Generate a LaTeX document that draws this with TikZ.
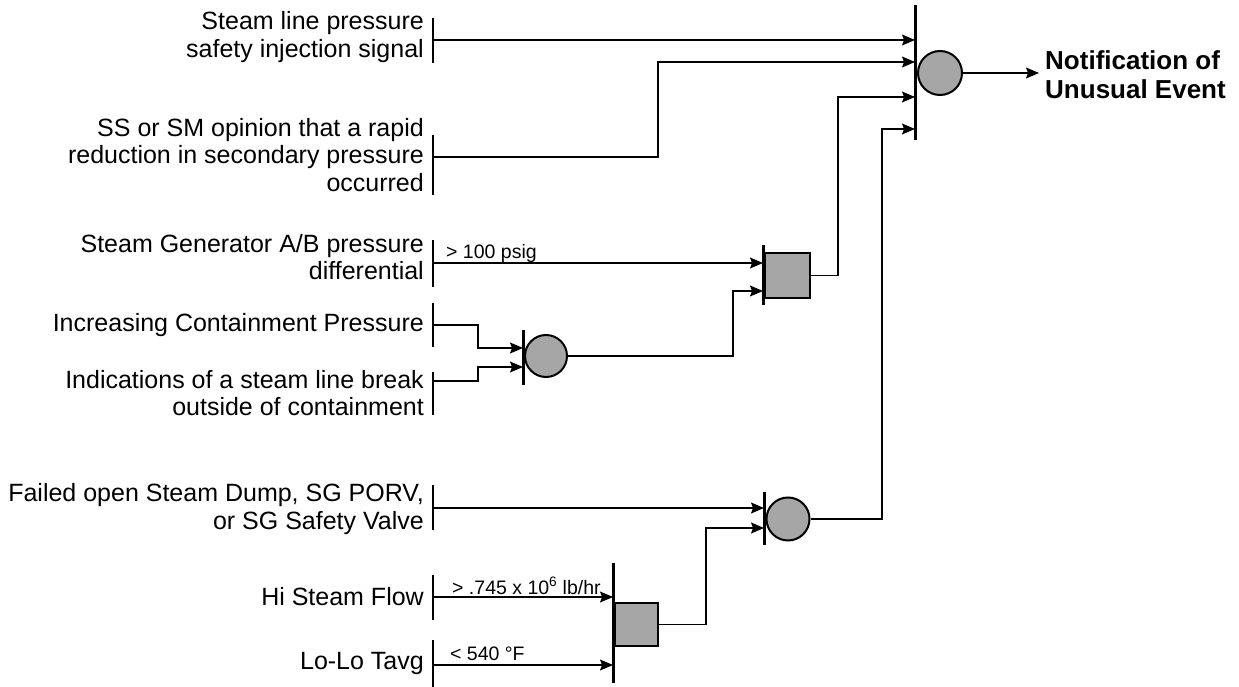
\documentclass[tikz,border=0pt]{standalone}
\usepackage{fontspec}
\setmainfont{Liberation Sans}
\usetikzlibrary{arrows.meta}
\begin{document}
\begin{tikzpicture}[x=1pt,y=-1pt,
  lbl/.style={anchor=east,align=right,inner sep=0pt,font=\fontsize{25}{27.5}\selectfont},
  small/.style={anchor=base west,inner sep=0pt,font=\fontsize{19.5}{21}\selectfont},
  ibar/.style={line width=1.5pt},
  gbar/.style={line width=3pt},
  orgate/.style={circle,draw,line width=2pt,fill=black!35,minimum size=44pt,inner sep=0pt},
  andgate/.style={rectangle,draw,line width=1.5pt,fill=black!35,minimum width=44pt,minimum height=44pt,inner sep=0pt},
  wire/.style={line width=1.1pt},
  arr/.style={wire,-{Stealth[length=13pt,width=11pt,inset=2pt]}}
]
\useasboundingbox (0,0) rectangle (1239,687);

% ---------- input labels ----------
\node[lbl] (t1) at (424,37) {Steam line pressure\\safety injection signal};
\node[lbl] (t2) at (424,155) {SS or SM opinion that a rapid\\reduction in secondary pressure\\occurred};
\node[lbl] (t3) at (424,257) {Steam Generator A/B pressure\\differential};
\node[lbl] (t4) at (424,325) {Increasing Containment Pressure};
\node[lbl] (t5) at (424,393) {Indications of a steam line break\\outside of containment};
\node[lbl] (t6) at (424,509) {Failed open Steam Dump, SG PORV,\\or SG Safety Valve};
\node[lbl] (t7) at (424,597) {Hi Steam Flow};
\node[lbl] (t8) at (424,663) {Lo-Lo Tavg};

% input bars
\draw[ibar] (433,18) -- (433,63);
\draw[ibar] (433,135) -- (433,195);
\draw[ibar] (433,240) -- (433,287);
\draw[ibar] (433,303) -- (433,347);
\draw[ibar] (433,372) -- (433,415);
\draw[ibar] (433,485) -- (433,530);
\draw[ibar] (433,575) -- (433,620);
\draw[ibar] (433,640) -- (433,687);

\coordinate (s1) at (433,40);
\coordinate (s2) at (433,157);
\coordinate (s3) at (433,263);
\coordinate (s4) at (433,325);
\coordinate (s5) at (433,381);
\coordinate (s6) at (433,508);
\coordinate (s7) at (433,597);
\coordinate (s8) at (433,665);

% ---------- gates ----------
% top OR gate
\node[orgate] (g0) at (940,73) {};
\draw[gbar] (915,5) -- (915,140);
\coordinate (g0i1) at (915,40);
\coordinate (g0i2) at (915,62);
\coordinate (g0i3) at (915,97);
\coordinate (g0i4) at (915,129);

% middle OR gate
\node[orgate,minimum size=42pt] (g1) at (546,356) {};
\draw[gbar] (523,330) -- (523,385);
\coordinate (g1i1) at (523,348);
\coordinate (g1i2) at (523,367);

% upper AND gate
\node[andgate,minimum width=45pt,minimum height=45pt] (a1) at (787.5,275.5) {};
\draw[gbar] (763,245) -- (763,305);
\coordinate (a1i1) at (763,263);
\coordinate (a1i2) at (763,291);

% lower OR gate
\node[orgate,minimum size=43pt] (g2) at (788,519) {};
\draw[gbar] (764,492) -- (764,545);
\coordinate (g2i1) at (764,508);
\coordinate (g2i2) at (764,528);

% lower AND gate
\node[andgate,minimum width=43pt,minimum height=43pt] (a2) at (636.5,624.5) {};
\draw[gbar] (613,563) -- (613,683);
\coordinate (a2i1) at (613,597);
\coordinate (a2i2) at (613,665);

% ---------- output ----------
\node[anchor=west,align=left,inner sep=0pt,font=\fontsize{26}{29}\selectfont\bfseries] (out) at (1045,75) {Notification of\\Unusual Event};
\draw[arr] (g0.east) -- ([xshift=-6pt]out.west |- g0.east);

% ---------- connectors ----------
\draw[arr] (s1) -- (g0i1);
\draw[arr] (s2) -- (658,157) |- (g0i2);
\draw[arr] (s3) -- (a1i1);
\draw[arr] (s4) -- (478,325) |- (g1i1);
\draw[arr] (s5) -- (478,381) |- (g1i2);
\draw[arr] (g1.east) -- (733,356) |- (a1i2);
\draw[arr] (a1.east) -- (838,275.5) |- (g0i3);
\draw[arr] (s6) -- (g2i1);
\draw[arr] (s7) -- (a2i1);
\draw[arr] (s8) -- (a2i2);
\draw[arr] (a2.east) -- (706,624.5) |- (g2i2);
\draw[arr] (g2.east) -- (882,519) |- (g0i4);

% condition labels
\node[small] (c1) at (446,258) {> 100 psig};
\node[small] (c2) at (452,594) {> .745 x 10\textsuperscript{6} lb/hr};
\node[small] (c3) at (450,660) {< 540 °F};
\end{tikzpicture}
\end{document}
